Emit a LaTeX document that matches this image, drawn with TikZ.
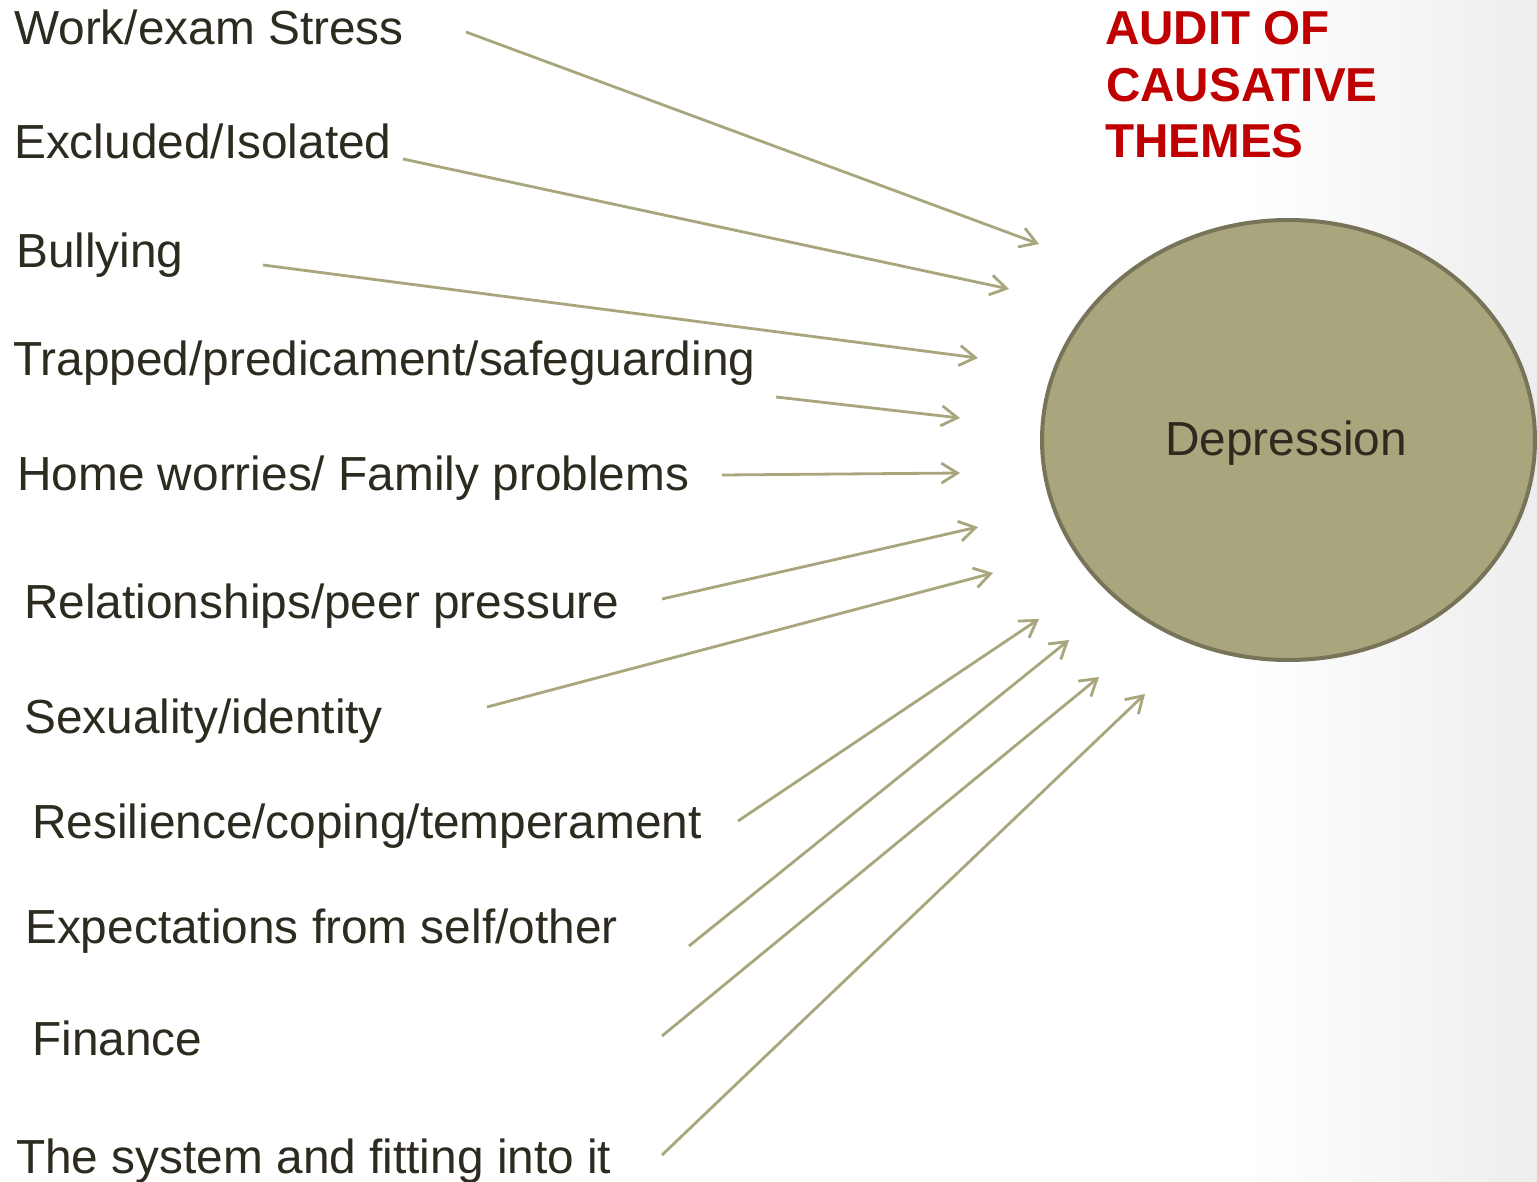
\documentclass[tikz,border=0pt]{standalone}
\usepackage{fontspec}
\setmainfont{Liberation Sans}
\usetikzlibrary{arrows.meta,shapes.geometric}
\definecolor{arrowc}{HTML}{A9A57C}
\definecolor{fillc}{HTML}{A9A57C}
\definecolor{edgec}{HTML}{78745A}
\definecolor{textc}{HTML}{2D2A1F}
\definecolor{titlec}{HTML}{C00000}
\tikzset{
  lbl/.style={anchor=base west, inner sep=0pt, text=textc, font=\fontsize{47.8}{56}\selectfont},
  ttl/.style={anchor=base west, inner sep=0pt, text=titlec, font=\fontsize{47.6}{56}\selectfont\bfseries},
  arr/.style={draw=arrowc, line width=2.8pt, -{Straight Barb[length=16pt, width=20pt]}},
  circ/.style={ellipse, draw=edgec, line width=4pt, fill=fillc, minimum width=493pt, minimum height=440pt, inner sep=0pt}
}
\begin{document}
\begin{tikzpicture}[x=1pt, y=-1pt]
\useasboundingbox (0,0) rectangle (1537,1182);
\fill[white] (0,0) rectangle (1537,1182);
\shade[left color=white, right color=black!7] (1250,0) rectangle (1537,1182);

% central ellipse
\node[circ] (dep) at (1288.5,440) {};
\node[anchor=base, inner sep=0pt, text=textc, font=\fontsize{47.8}{56}\selectfont] (deptxt) at (1286,455) {Depression};

% title
\node[ttl] (t1) at (1105,45) {AUDIT OF};
\node[ttl] (t2) at (1106,102) {CAUSATIVE};
\node[ttl] (t3) at (1105,158) {THEMES};

% labels
\node[lbl] (work)  at (14,45)   {Work/exam Stress};
\node[lbl] (excl)  at (14,159)  {Excluded/Isolated};
\node[lbl] (bull)  at (16,268)  {Bullying};
\node[lbl] (trap)  at (13,375)  {Trapped/predicament/safeguarding};
\node[lbl] (home)  at (17,490)  {Home worries/ Family problems};
\node[lbl] (rel)   at (24,618)  {Relationships/peer pressure};
\node[lbl] (sex)   at (24,733)  {Sexuality/identity};
\node[lbl] (res)   at (32,838)  {Resilience/coping/temperament};
\node[lbl] (exp)   at (25,943)  {Expectations from self/other};
\node[lbl] (fin)   at (32,1055) {Finance};
\node[lbl] (sys)   at (16,1173) {The system and fitting into it};

% arrow start and end points
\coordinate (s1) at (466,32);   \coordinate (e1) at (1039,244);
\coordinate (s2) at (403,159);  \coordinate (e2) at (1009,289);
\coordinate (s3) at (263,265);  \coordinate (e3) at (978,358);
\coordinate (s4) at (776,397);  \coordinate (e4) at (960,418);
\coordinate (s5) at (722,475);  \coordinate (e5) at (960,473);
\coordinate (s6) at (662,599);  \coordinate (e6) at (978,527);
\coordinate (s7) at (487,707);  \coordinate (e7) at (993,573);
\coordinate (s8) at (738,821);  \coordinate (e8) at (1039,619);
\coordinate (s9) at (689,946);  \coordinate (e9) at (1069,640);
\coordinate (s10) at (662,1036); \coordinate (e10) at (1099,677);
\coordinate (s11) at (662,1155); \coordinate (e11) at (1145,694);

\foreach \i in {1,...,11} {
  \draw[arr] (s\i) -- (e\i);
}
\end{tikzpicture}
\end{document}
